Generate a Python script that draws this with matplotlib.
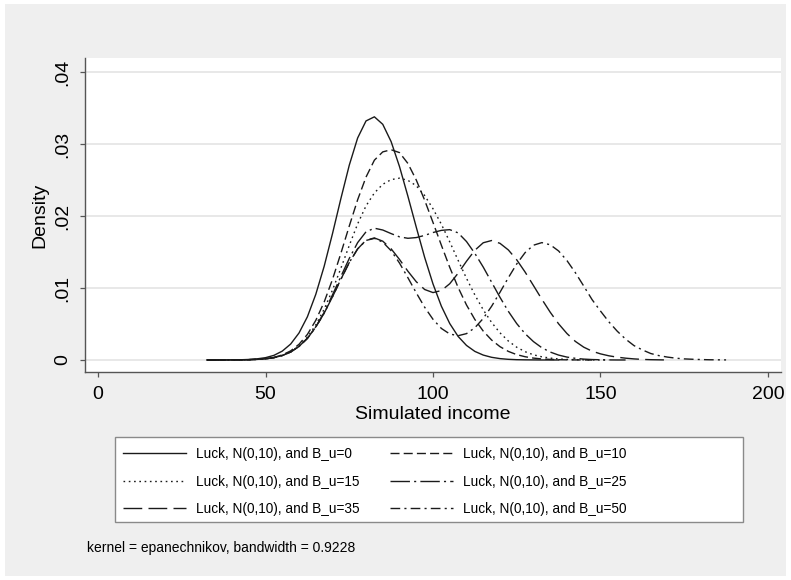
import numpy as np
import matplotlib
matplotlib.use('Agg')
from matplotlib import pyplot as plt
from matplotlib.patches import Rectangle

plt.rcParams['font.family'] = ['Liberation Sans', 'DejaVu Sans']

# evaluation points of the kernel densities (simulated income)
income = [32.5, 35, 37.5, 40, 42.5, 45, 47.5, 50, 52.5, 55, 57.5, 60, 62.5, 65, 67.5,
          70, 72.5, 75, 77.5, 80, 82.5, 85, 87.5, 90, 92.5, 95, 97.5, 100, 102.5, 105,
          107.5, 110, 112.5, 115, 117.5, 120, 122.5, 125, 127.5, 130, 132.5, 135, 137.5,
          140, 142.5, 145, 147.5, 150, 152.5, 155, 157.5, 160, 162.5, 165, 167.5, 170,
          172.5, 175, 177.5, 180, 182.5, 185, 187.5]

# densities, one list per B_u value
dens_bu0 = [0, 0, 0, .00001, .00003, .00007, .00016, .00032, .00064, .00123, .00221, .00375,
            .00600, .00911, .01300, .01756, .02242, .02705, .03083, .03320, .03377, .03273,
            .03032, .02686, .02275, .01845, .01426, .01056, .00747, .00506, .00327, .00202,
            .00119, .00068, .00037, .00019, .00009, .00004, .00002, .00001, 0, 0, 0]
dens_bu10 = [0, 0, 0, .00001, .00002, .00004, .00009, .00018, .00036, .00070, .00126, .00218,
             .00355, .00550, .00804, .01120, .01482, .01860, .02225, .02540, .02775, .02890,
             .02920, .02880, .02730, .02500, .02220, .01910, .01594, .01286, .01007, .00764,
             .00562, .00401, .00277, .00185, .00119, .00074, .00045, .00026, .00014, .00008,
             .00004, .00002, .00001, 0, 0]
dens_bu15 = [0, 0, 0, .00001, .00002, .00004, .00008, .00016, .00033, .00063, .00114, .00196,
             .00316, .00486, .00705, .00972, .01275, .01590, .01890, .02140, .02320, .02440,
             .02505, .02525, .02495, .02420, .02285, .02100, .01885, .01640, .01384, .01134,
             .00903, .00697, .00521, .00377, .00263, .00177, .00115, .00072, .00044, .00026,
             .00014, .00008, .00004, .00002, .00001, 0, 0]
dens_bu25 = [0, 0, 0, .00001, .00002, .00004, .00008, .00016, .00032, .00062, .00110, .00188,
             .00302, .00460, .00660, .00905, .01160, .01410, .01630, .01780, .01830, .01805,
             .01755, .01710, .01690, .01700, .01730, .01770, .01800, .01810, .01765, .01645,
             .01480, .01290, .01080, .00870, .00675, .00505, .00365, .00255, .00170, .00110,
             .00068, .00040, .00023, .00012, .00006, .00003, .00001, 0, 0]
dens_bu35 = [0, 0, 0, .00001, .00002, .00004, .00008, .00016, .00032, .00062, .00110, .00188,
             .00300, .00456, .00650, .00878, .01121, .01353, .01543, .01663, .01695, .01650,
             .01544, .01396, .01233, .01087, .00979, .00936, .00964, .01059, .01205, .01371,
             .01524, .01628, .01659, .01620, .01528, .01391, .01221, .01033, .00843, .00663,
             .00502, .00367, .00258, .00178, .00122, .00085, .00058, .00039, .00025, .00015,
             .00008, .00004, .00002, 0]
dens_bu50 = [0, 0, 0, .00001, .00002, .00004, .00008, .00016, .00032, .00062, .00110, .00188,
             .00300, .00456, .00650, .00878, .01121, .01353, .01542, .01660, .01689, .01637,
             .01517, .01346, .01143, .00933, .00733, .00565, .00438, .00361, .00337, .00366,
             .00448, .00577, .00746, .00940, .01143, .01334, .01491, .01594, .01630, .01600,
             .01514, .01380, .01213, .01027, .00838, .00680, .00530, .00400, .00290, .00200,
             .00140, .00090, .00060, .00040, .00025, .00015, .00010, .00006, .00003, .00002,
             .00001]

series = [dens_bu0, dens_bu10, dens_bu15, dens_bu25, dens_bu35, dens_bu50]
labels = ['Luck, N(0,10), and B_u=0', 'Luck, N(0,10), and B_u=10',
          'Luck, N(0,10), and B_u=15', 'Luck, N(0,10), and B_u=25',
          'Luck, N(0,10), and B_u=35', 'Luck, N(0,10), and B_u=50']
dash_styles = [None, (6.5, 3), (1.2, 2.6), (14, 3, 1.5, 3), (13.5, 4.5), (7, 3, 1.5, 3)]

x_ticks = [0, 50, 100, 150, 200]
y_ticks = [0, .01, .02, .03, .04]
y_tick_labels = ['0', '.01', '.02', '.03', '.04']
note = 'kernel = epanechnikov, bandwidth = 0.9228'

W, H = 791, 580
fig = plt.figure(figsize=(W / 100, H / 100), dpi=100, facecolor='white')
# stata-like light gray graph region
fig.patches.append(Rectangle((5 / W, 4 / H), 781 / W, 572 / H, transform=fig.transFigure,
                             facecolor='#efefef', edgecolor='none', zorder=-5))

ax = fig.add_axes([85 / W, 1 - 372 / H, 696 / W, 314 / H])
ax.set_facecolor('white')

lines = []
for y, lab, ds in zip(series, labels, dash_styles):
    x = income[:len(y)]
    if ds is None:
        ln, = ax.plot(x, y, color='#1a1a1a', lw=1.0, label=lab)
    else:
        ln, = ax.plot(x, y, color='#1a1a1a', lw=1.0, dashes=ds, label=lab)
    lines.append(ln)

ax.set_xlim(-3.9, 203.9)
ax.set_ylim(-0.00167, 0.04194)
ax.set_xticks(x_ticks)
ax.set_yticks(y_ticks)
ax.set_yticklabels(y_tick_labels, rotation=90, va='center')
ax.yaxis.grid(True, color='#e4e4e4', lw=1.2)
ax.set_axisbelow(True)
for s in ['top', 'right']:
    ax.spines[s].set_visible(False)
for s in ['left', 'bottom']:
    ax.spines[s].set_color('#555555')
    ax.spines[s].set_linewidth(1.0)
ax.tick_params(length=3.6, width=0.9, color='#555555', labelsize=14)
ax.tick_params(axis='x', pad=6.5)
ax.tick_params(axis='y', pad=6.5)

ax.set_xlabel('Simulated income', fontsize=14)
ax.set_ylabel('Density', fontsize=14)
ax.xaxis.set_label_coords(0.5, -0.108)
ax.yaxis.set_label_coords(-0.053, 0.5)

# legend box (drawn separately so the two columns keep stata spacing)
fig.patches.append(Rectangle((115 / W, 1 - 522 / H), 628 / W, 85 / H, transform=fig.transFigure,
                             facecolor='white', edgecolor='#8a8a8a', lw=1.0, zorder=1))
order = [0, 2, 4, 1, 3, 5]
leg = fig.legend([lines[i] for i in order], [labels[i] for i in order], ncol=2,
                 loc='upper left', bbox_to_anchor=(123 / W, 1 - 447 / H), frameon=False,
                 fontsize=9.8, handlelength=4.6, handletextpad=0.75, columnspacing=2.25,
                 labelspacing=1.0, borderpad=0, borderaxespad=0)
leg.set_zorder(2)

fig.text(87 / W, 1 - 548 / H, note, fontsize=10, ha='left', va='center')

plt.savefig('out.png', dpi=100, facecolor=fig.get_facecolor())
